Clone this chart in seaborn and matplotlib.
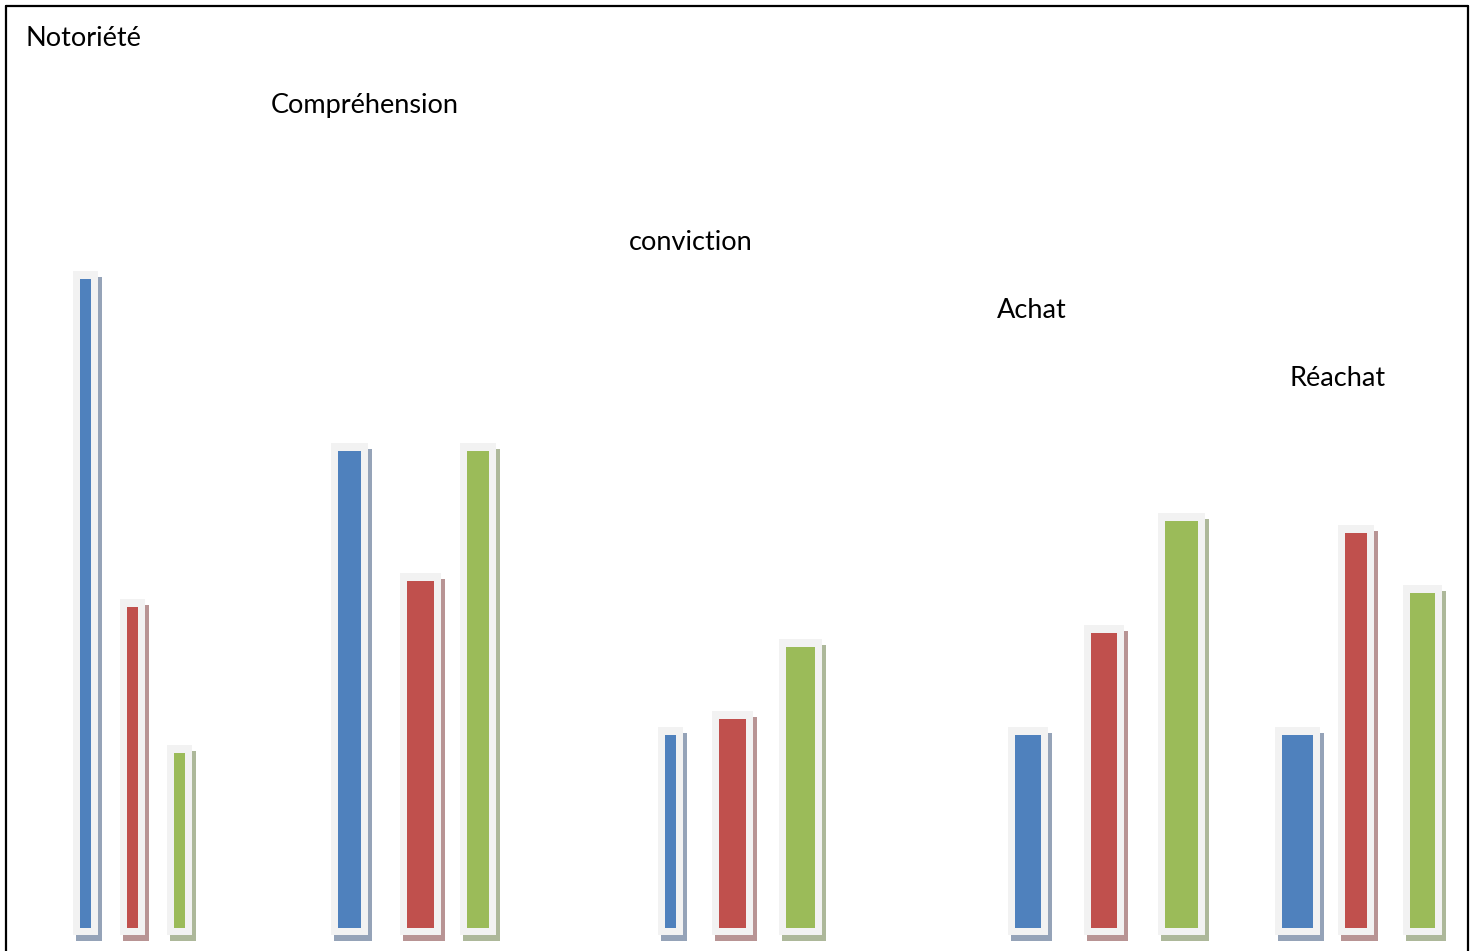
import matplotlib
matplotlib.use("Agg")
import matplotlib.pyplot as plt
from matplotlib.patches import Rectangle
import seaborn as sns

# ---- data ----
categories = ["Notoriété", "Compréhension", "conviction", "Achat", "Réachat"]
serie_bleue = [100.0, 73.5, 29.7, 29.7, 29.7]
serie_rouge = [49.5, 53.5, 32.2, 45.5, 60.9]
serie_verte = [27.0, 73.5, 43.3, 62.7, 51.6]

# ---- layout (pixel units) ----
centres = [
    [85.5, 132.5, 179.5],
    [349.5, 420.5, 478.0],
    [670.5, 732.5, 800.5],
    [1028.0, 1104.0, 1181.5],
    [1297.5, 1356.0, 1422.5],
]
largeurs = [
    [11, 11, 11],
    [23, 27, 22],
    [11, 27, 29],
    [26, 26, 33],
    [31, 22, 25],
]
label_pos = [(26, 38), (271, 106), (629, 242), (997, 310), (1289, 378)]

couleurs = ["#4f81bd", "#c0504d", "#9bbb59"]
ombres = ["#95a3b8", "#b89494", "#adb89a"]
cadre = "#f2f2f2"

W, H = 1475, 951
BASE = 928          # pixel row of value 0
SCALE = 6.49        # pixels per unit

sns.set_theme(style="white")
plt.rcParams["font.family"] = ["Lato", "DejaVu Sans"]

fig = plt.figure(figsize=(W / 100, H / 100), dpi=100)
ax = fig.add_axes([0, 0, 1, 1])
ax.set_xlim(0, W)
ax.set_ylim(-(H - BASE) / SCALE, BASE / SCALE)
ax.axis("off")

px = 1 / SCALE
series = [serie_bleue, serie_rouge, serie_verte]
for g in range(len(categories)):
    for s in range(3):
        v = series[s][g]
        c = centres[g][s]
        w = largeurs[g][s]
        fw = w + 14
        # shadow
        ax.add_patch(Rectangle((c - fw / 2 + 3, -7 * px - 6 * px), fw + 1, v + 15 * px,
                               facecolor=ombres[s], edgecolor="none", zorder=1))
        # light frame
        ax.add_patch(Rectangle((c - fw / 2, -7 * px), fw, v + 15 * px,
                               facecolor=cadre, edgecolor="none", zorder=2))
    ax.bar(centres[g], [series[s][g] for s in range(3)], width=largeurs[g],
           color=couleurs, zorder=3, linewidth=0)

for cat, (x, y) in zip(categories, label_pos):
    fig.text(x / W, 1 - y / H, cat, fontsize=19.5, va="center", ha="left", color="black")

# outer border (no bottom edge visible)
fig.add_artist(plt.Line2D([6 / W, 6 / W], [0, 1 - 6 / H], color="black", lw=1.6))
fig.add_artist(plt.Line2D([6 / W, 1468 / W], [1 - 6 / H, 1 - 6 / H], color="black", lw=1.6))
fig.add_artist(plt.Line2D([1468 / W, 1468 / W], [0, 1 - 6 / H], color="black", lw=1.6))

fig.savefig("out.png", dpi=100)
